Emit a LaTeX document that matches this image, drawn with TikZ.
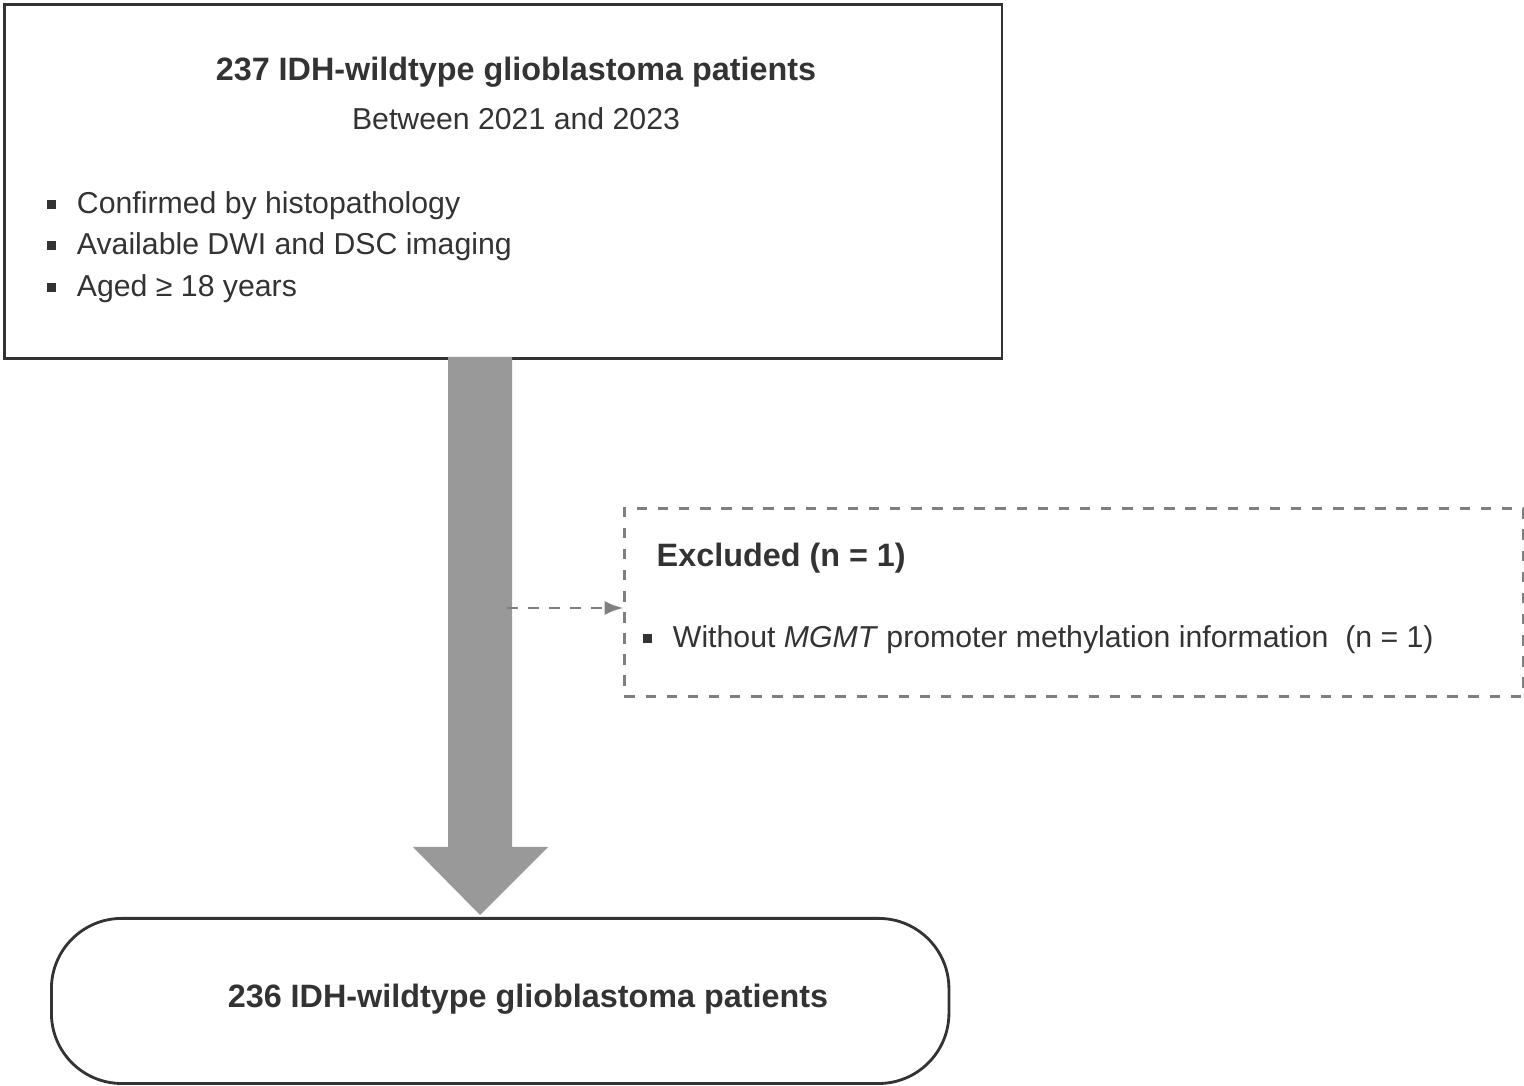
\documentclass[tikz,border=0pt]{standalone}
\usepackage{fontspec}
\setmainfont{Liberation Sans}
\usetikzlibrary{positioning}
\definecolor{arrowgrey}{HTML}{999999}
\definecolor{dashgrey}{HTML}{7F7F7F}
\definecolor{txt}{HTML}{333333}
\newcommand{\bulletsq}{\raisebox{0.3ex}{\rule{2.6pt}{2.6pt}}\hspace{6pt}}
\begin{document}
\begin{tikzpicture}[x=0.01cm, y=-0.01cm, every node/.style={font=\fontsize{8.6}{10}\selectfont, text=txt},
    box/.style={draw=txt, line width=0.8pt, inner sep=0pt},
    item/.style={anchor=west, inner sep=0pt}]
    \useasboundingbox (0,0) rectangle (1524,1086);
    % Top box
    \node[box, anchor=north west, minimum width=9.97cm, minimum height=3.54cm] (top) at (3,3) {};
    \node[font=\fontsize{9.2}{10}\selectfont\bfseries, inner sep=0pt] (title) at (516,72) {237 IDH-wildtype glioblastoma patients};
    \node[inner sep=0pt] (period) at (516,119) {Between 2021 and 2023};
    \foreach \y/\label in {206/Confirmed by histopathology, 247/Available DWI and DSC imaging, 289/Aged ≥ 18 years} {
        \node[item] at (46,\y) {\bulletsq\label};
    }
    % Big arrow
    \fill[arrowgrey] (448,357) -- (512,357) -- (512,847) -- (548,847) -- (480,915) -- (413,847) -- (448,847) -- cycle;
    % Excluded box
    \node[draw=dashgrey, dashed, line width=0.8pt, anchor=north west, minimum width=8.98cm, minimum height=1.88cm] (excl) at (623,507) {};
    \node[item, font=\fontsize{9.2}{10}\selectfont\bfseries] (exhead) at (656,558) {Excluded (n = 1)};
    \node[item] (exitem) at (642,640) {\bulletsq Without \textit{MGMT} promoter methylation information\ \ (n = 1)};
    \coordinate (split) at (507,608);
    \draw[dashgrey, dashed, line width=0.8pt, -latex] (split) -- (excl.west |- split);
    % Result box
    \node[box, rounded corners=20pt, anchor=north west, minimum width=8.97cm, minimum height=1.65cm] (result) at (50,917) {};
    \node[font=\fontsize{9.2}{10}\selectfont\bfseries, inner sep=0pt] at (528,999) {236 IDH-wildtype glioblastoma patients};
\end{tikzpicture}
\end{document}
